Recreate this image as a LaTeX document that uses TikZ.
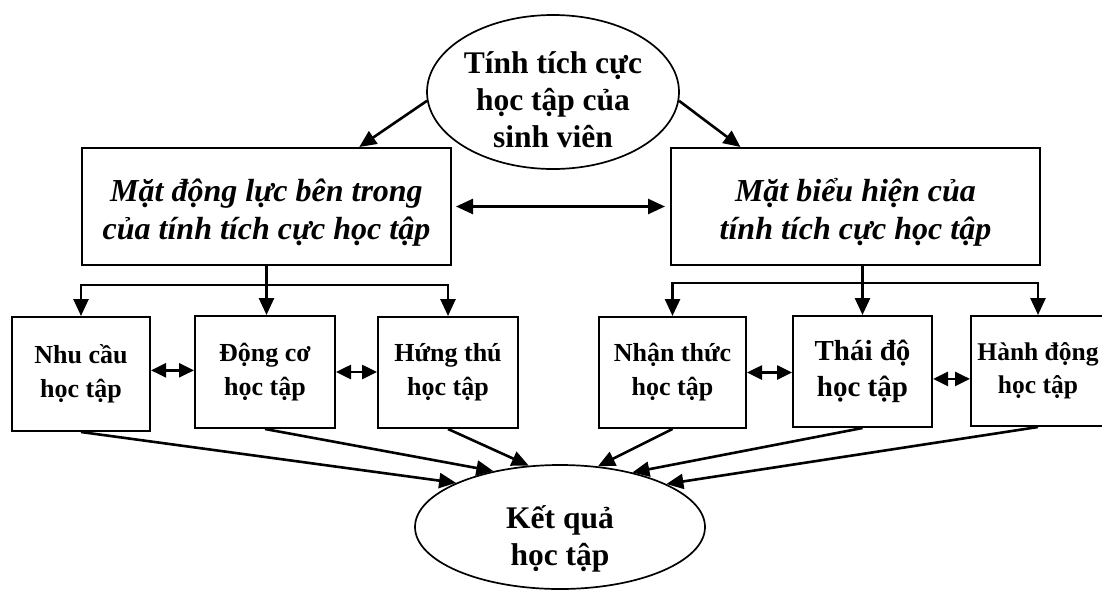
\documentclass[tikz,border=0pt]{standalone}
\usepackage{fontspec}
\setmainfont{Liberation Serif}
\usepackage{tikz}
\usetikzlibrary{arrows.meta,shapes,positioning,calc}
\tikzstyle{arrow} = [line width=2.6pt,-{Triangle[length=17pt,width=15pt]}]
\tikzstyle{twoway} = [line width=2.6pt,{Triangle[length=17pt,width=15pt]}-{Triangle[length=17pt,width=15pt]}]
\tikzstyle{small} = [line width=2.6pt,{Triangle[length=15pt,width=14pt]}-{Triangle[length=15pt,width=14pt]}]
\tikzstyle{aspect} = [rectangle, draw, line width=2pt, minimum width=369pt, minimum height=117pt, inner sep=0pt, align=center, font=\fontsize{32}{38}\selectfont\bfseries\itshape]
\tikzstyle{factor} = [rectangle, draw, line width=2pt, minimum height=112pt, inner sep=0pt, align=center, font=\fontsize{26}{34}\selectfont\bfseries]
\tikzstyle{oval} = [ellipse, draw, line width=1.7pt, inner xsep=-30pt, inner ysep=-30pt, align=center, font=\fontsize{31.5}{37}\selectfont\bfseries]
% pushes the text of a node a little down
\newcommand{\lift}[1]{\rule{0pt}{#1}}

\begin{document}
\begin{tikzpicture}[x=1pt, y=-1pt]
    \useasboundingbox (0,0) rectangle (1102,590);
    % Top and bottom ovals
    \node[oval, minimum width=252pt, minimum height=154pt] (top) at (553,92) {\lift{37pt}Tính tích cực\\học tập của\\sinh viên};
    \node[oval, minimum width=290pt, minimum height=124pt] (result) at (560,527) {\lift{46pt}Kết quả\\học tập};

    % Two aspects
    \node[aspect] (dyn) at (266.5,206.5) {\lift{35pt}Mặt động lực bên trong\\của tính tích cực học tập};
    \node[aspect] (expr) at (855.5,206.5) {\lift{35pt}Mặt biểu hiện của\\tính tích cực học tập};

    % Factor boxes
    \node[factor, minimum width=138pt, minimum height=114pt] (needs) at (81,374) {Nhu cầu\\học tập};
    \node[factor, minimum width=140pt] (motive) at (265,372) {Động cơ\\học tập};
    \node[factor, minimum width=140pt, minimum height=111pt] (interest) at (448,372.5) {Hứng thú\\học tập};
    \node[factor, minimum width=147pt, minimum height=111pt] (cognit) at (672.5,372.5) {Nhận thức\\học tập};
    \node[factor, minimum width=139pt, minimum height=111pt, font=\fontsize{29}{36}\selectfont\bfseries] (attit) at (862.5,371.5) {Thái độ\\học tập};
    \node[factor, minimum width=134pt, minimum height=110pt, font=\fontsize{25.5}{33}\selectfont\bfseries] (action) at (1038,371) {Hành động\\học tập};

    \coordinate (lbar) at (0,285);
    \coordinate (rbar) at (0,283);

    % Arrows
    \draw[arrow] (top.184) -- ($(dyn.north)!.5!(dyn.north east)$);
    \draw[arrow] (top.356) -- ($(expr.north west)!.38!(expr.north)$);
    \draw[twoway, shorten <=4pt, shorten >=5pt] (dyn.east) -- (expr.west);

    \draw[arrow] (dyn.south) -- (dyn.south |- motive.north);
    \draw[twoway] (needs.north) -- (needs.north |- lbar) -- (interest.north |- lbar) -- (interest.north);
    \draw[arrow] (attit.north |- expr.south) -- (attit.north);
    \draw[twoway] (cognit.north) -- (cognit.north |- rbar) -- (action.north |- rbar) -- (action.north);

    \draw[small] (needs.3) -- (needs.3 -| motive.west);
    \draw[small] (motive.east) -- (motive.east -| interest.west);
    \draw[small] (cognit.east) -- (cognit.east -| attit.west);
    \draw[small] (attit.-6) -- (attit.-6 -| action.west);

    \draw[arrow] (needs.south) -- (result.157);
    \draw[arrow] (motive.south) -- (result.140);
    \draw[arrow] (interest.south) -- (result.117);
    \draw[arrow] (cognit.south) -- (result.58);
    \draw[arrow] (attit.south) -- (result.37);
    \draw[arrow] (action.south) -- (result.22);
\end{tikzpicture}
\end{document}
